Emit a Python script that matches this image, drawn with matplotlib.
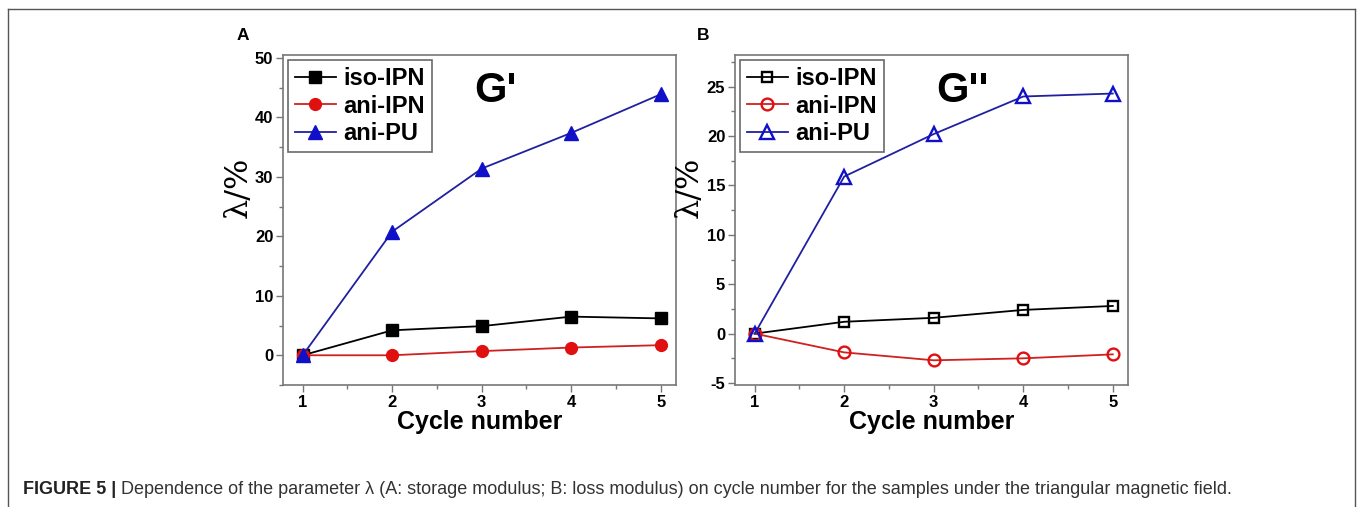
import matplotlib
matplotlib.use("Agg")
import matplotlib.pyplot as plt
from matplotlib.lines import Line2D
from matplotlib.ticker import MultipleLocator

cycles = [1, 2, 3, 4, 5]
series_names = ["iso-IPN", "ani-IPN", "ani-PU"]

# Panel A: G'
a_iso_ipn = [0, 4.2, 4.9, 6.5, 6.2]
a_ani_ipn = [0, 0.0, 0.7, 1.3, 1.7]
a_ani_pu = [0, 20.8, 31.4, 37.4, 43.9]

# Panel B: G''
b_iso_ipn = [0, 1.2, 1.6, 2.4, 2.8]
b_ani_ipn = [0, -1.9, -2.7, -2.5, -2.1]
b_ani_pu = [0, 15.9, 20.2, 24.0, 24.3]

caption_bold = "FIGURE 5 |"
caption_rest = (" Dependence of the parameter \u03bb (A: storage modulus; B: loss modulus) "
                "on cycle number for the samples under the triangular magnetic field.")

W, H = 1358, 507
fig = plt.figure(figsize=(W / 100, H / 100), dpi=100)
plt.rcParams['font.family'] = ['Liberation Sans', 'DejaVu Sans']
plt.rcParams['axes.unicode_minus'] = False


def px_axes(x0, y0, x1, y1):
    return fig.add_axes([x0 / W, 1 - y1 / H, (x1 - x0) / W, (y1 - y0) / H])


colors = ["black", "#e01010", "#1010c8"]
linecolors = ["black", "#d02020", "#2020a0"]
markers = ["s", "o", "^"]


def style(ax, ylim, major, minor, gtext, gx, ylx):
    ax.set_xlim(0.78, 5.17)
    ax.set_ylim(*ylim)
    ax.xaxis.set_major_locator(MultipleLocator(1))
    ax.xaxis.set_minor_locator(MultipleLocator(0.5))
    ax.yaxis.set_major_locator(MultipleLocator(major))
    ax.yaxis.set_minor_locator(MultipleLocator(minor))
    for s in ax.spines.values():
        s.set_color("#777777")
        s.set_linewidth(1.2)
    ax.tick_params(which="both", direction="out", color="#777777", width=1)
    ax.tick_params(which="major", length=5, labelsize=12, pad=2)
    ax.tick_params(which="minor", length=3)
    for lab in ax.get_xticklabels() + ax.get_yticklabels():
        lab.set_fontweight("bold")
    ax.set_xlabel("Cycle number", fontsize=18, fontweight="bold", labelpad=0)
    ax.set_ylabel("\u03bb/%", fontsize=23, family=["DejaVu Serif"], labelpad=2)
    ax.yaxis.set_label_coords(ylx, 0.6)
    ax.text(gx, 0.95, gtext, transform=ax.transAxes, fontsize=30,
            fontweight="bold", ha="center", va="top")
    leg = ax.legend(loc="upper left", bbox_to_anchor=(0.0, 1.0), frameon=True,
                    fancybox=False, edgecolor="#444444",
                    prop={"weight": "bold", "size": 17}, handlelength=1.75,
                    handletextpad=0.3, borderpad=0.3, labelspacing=0.2,
                    borderaxespad=0.2)
    leg.get_frame().set_linewidth(1.2)


# Panel A
axA = px_axes(283, 55, 676, 385)
msA = [8.5, 8.5, 10.5]
for i, ys in enumerate([a_iso_ipn, a_ani_ipn, a_ani_pu]):
    axA.plot(cycles, ys, color=linecolors[i], marker=markers[i], markersize=msA[i],
             markerfacecolor=colors[i], markeredgecolor=colors[i], linewidth=1.3,
             label=series_names[i], zorder=3 + i)
style(axA, (-5, 50.5), 10, 5, "G'", 0.54, -0.075)

# Panel B
axB = px_axes(735, 55, 1128, 385)
msB = [7.5, 8.5, 10.5]
for i, ys in enumerate([b_iso_ipn, b_ani_ipn, b_ani_pu]):
    axB.plot(cycles, ys, color=linecolors[i], marker=markers[i], markersize=msB[i],
             markerfacecolor="none", markeredgecolor=colors[i], markeredgewidth=1.7,
             linewidth=1.3, label=series_names[i], zorder=3 + i)
style(axB, (-5.2, 28.2), 5, 2.5, "G''", 0.578, -0.078)

fig.text(237 / W, 1 - 35 / H, "A", fontsize=12.5, fontweight="bold", ha="left", va="center")
fig.text(697 / W, 1 - 35 / H, "B", fontsize=12.5, fontweight="bold", ha="left", va="center")

# caption
t1 = fig.text(23 / W, 1 - 489 / H, caption_bold, fontsize=13, fontweight="bold",
              ha="left", va="center", color="#222222")
fig.canvas.draw()
bb = t1.get_window_extent()
fig.text(bb.x1 / W, 1 - 489 / H, caption_rest, fontsize=13, ha="left", va="center",
         color="#333333")

# outer frame
fc = "#555555"
fig.add_artist(Line2D([8 / W, 8 / W], [0, 1 - 9 / H], transform=fig.transFigure, color=fc, lw=1))
fig.add_artist(Line2D([8 / W, 1355 / W], [1 - 9 / H, 1 - 9 / H], transform=fig.transFigure, color=fc, lw=1))
fig.add_artist(Line2D([1355 / W, 1355 / W], [0, 1 - 9 / H], transform=fig.transFigure, color=fc, lw=1))

fig.savefig("out.png", dpi=100)
